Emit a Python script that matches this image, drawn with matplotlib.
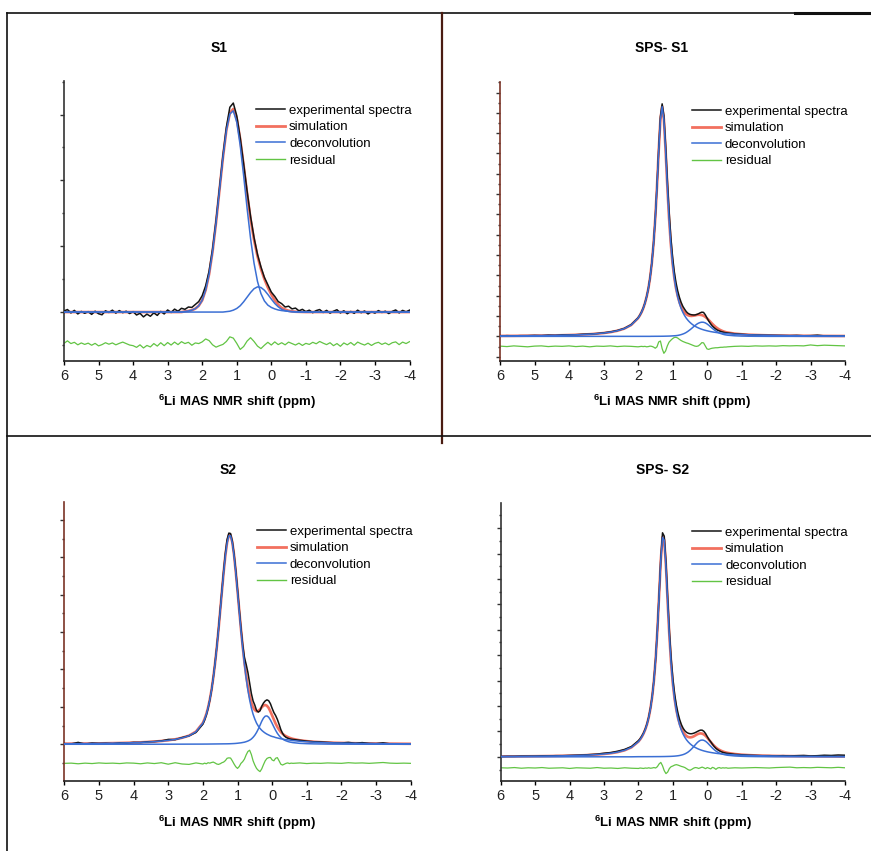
import numpy as np
import matplotlib
matplotlib.use("Agg")
import matplotlib.pyplot as plt
from matplotlib.lines import Line2D
from matplotlib.ticker import MultipleLocator

plt.rcParams['font.family'] = ['Liberation Sans', 'DejaVu Sans']
plt.rcParams['mathtext.fontset'] = 'custom'
plt.rcParams['mathtext.rm'] = 'Liberation Sans'
plt.rcParams['mathtext.bf'] = 'Liberation Sans:bold'

# 6Li shift axis (ppm). S1 is sampled every 0.1 ppm, the other spectra
# coarse in the wings and every 0.05 ppm through the peak region.
shift_s1 = np.linspace(6.0, -4.0, 101)
shift_fine = np.concatenate([np.linspace(6.0, 2.2, 20),
                             np.linspace(2.0, -0.6, 53),
                             np.linspace(-0.8, -4.0, 17)])

# ---- S1 (intensity, exp. maximum = 100) ----
s1_exp = [0.5, 1.2, -0.4, 0.8, -0.9, 0.3, -0.6, 0.2, -1.1, 0.4,
          -0.8, -1.3, 0.6, -0.2, 0.9, -0.5, 0.7, -0.3, 0.4, -0.7,
          0.2, -1.4, -0.6, -2.3, -1.0, -2.0, -0.4, -1.6, 0.3, -0.9,
          1.0, -0.2, 1.4, 0.4, 1.8, 1.3, 2.4, 2.2, 3.6, 5.0,
          7.8, 12.5, 19.5, 30.0, 43.5, 59.0, 74.5, 88.0, 97.5, 99.5,
          93.5, 83.0, 70.5, 57.5, 45.5, 35.5, 27.5, 21.5, 16.5, 13.0,
          9.5, 7.5, 5.0, 4.0, 2.4, 2.8, 1.5, 1.9, 0.6, 1.3,
          0.2, 0.9, -0.3, 0.7, 1.2, -0.2, 0.8, -0.5, 0.4, 1.1,
          -0.4, 0.6, -0.8, 0.3, -0.6, 0.9, -0.3, 0.5, -0.9, 0.2,
          -0.5, 0.7, -0.2, 0.4, -0.7, 0.3, 1.0, -0.4, 0.8, 0.1,
          0.9]
s1_sim = [0.0] * 35 + [
          0.3, 0.5, 0.9, 1.6, 3.0, 5.6, 10.5, 18.0, 28.8, 42.5,
          58.0, 73.5, 86.6, 94.7, 96.7, 92.1, 82.3, 69.7, 56.4, 44.3,
          34.4, 26.6, 20.5, 15.7, 11.7, 8.4, 5.6, 3.5, 2.0, 1.2,
          0.65, 0.35, 0.15, 0.1, 0.05] + [0.0] * 31
s1_dec1 = [0.0] * 35 + [
          0.3, 0.5, 0.9, 1.6, 3.0, 5.6, 10.5, 18.0, 28.8, 42.5,
          58.0, 73.5, 86.4, 94.3, 95.8, 90.4, 79.3, 64.8, 49.3, 35.0,
          23.3, 14.6, 8.8, 5.3, 3.3, 2.2, 1.5, 1.0, 0.7, 0.5,
          0.35, 0.25, 0.15, 0.1, 0.05] + [0.0] * 31
s1_dec2 = [0.0] * 47 + [
          0.2, 0.4, 0.9, 1.7, 3.0, 4.9, 7.1, 9.3, 11.1, 12.0,
          11.7, 10.4, 8.4, 6.2, 4.1, 2.5, 1.3, 0.7, 0.3, 0.1] + [0.0] * 34
s1_res = [0.3, 1.5, 0.2, 0.8, -0.4, 0.5, -0.2, 0.4, -0.6, 0.3,
          -0.9, -0.3, 0.6, -0.1, 0.5, -0.4, 0.3, 0.9, 0.2, -0.5,
          -0.8, -1.6, -0.4, -1.9, -0.7, -1.4, 0.2, -1.0, 0.6, -0.8,
          0.7, -0.5, 0.9, -0.3, 1.1, 0.2, 0.8, -0.6, 0.5, 0.2,
          1.0, 2.4, 1.6, -0.4, -1.5, -0.8, -0.2, 1.2, 3.4, 2.8,
          0.3, -2.6, -1.2, 1.4, 3.0, 1.2, -1.0, -2.2, -0.6, 0.8,
          -0.5, 1.0, -0.3, 0.6, -0.4, 0.9, 0.2, -0.5, 0.4, -0.7,
          0.3, -0.2, 0.8, 0.1, 1.2, 0.4, -0.3, 0.6, -0.8, 0.2,
          -1.1, 0.5, -0.4, 0.7, -0.6, 0.9, 0.1, -0.5, 0.4, -0.7,
          0.3, 0.8, -0.2, 0.5, -0.4, 0.6, 1.0, -0.3, 0.9, 0.2,
          1.1]

# ---- SPS- S1 ----
sps1_exp = [0.1, 0.3, 0.2, 0.3, 0.3, 0.4, 0.3, 0.5, 0.4, 0.6,
            0.6, 0.7, 0.9, 1.0, 1.2, 1.5, 1.9, 2.5, 3.4, 5.0,
            7.9, 9.0, 10.4, 12.1, 14.3, 17.1, 20.6, 25.3, 31.5, 39.8,
            50.7, 64.5, 80.5, 94.5, 100.0, 95.0, 82.5, 67.5, 54.0, 43.0,
            34.5, 28.0, 23.2, 19.6, 16.8, 14.6, 12.9, 11.7, 10.6, 9.9,
            9.5, 9.3, 9.2, 9.2, 9.4, 9.7, 10.1, 10.4, 10.3, 9.3,
            7.9, 6.6, 5.5, 4.5, 3.8, 3.2, 2.7, 2.4, 2.1, 1.9,
            1.7, 1.55, 1.45,
            1.1, 0.9, 0.7, 0.6, 0.5, 0.45, 0.4, 0.35, 0.3, 0.4,
            0.25, 0.3, 0.5, 0.2, 0.25, 0.15, 0.2]
sps1_sim = [0.19, 0.20, 0.22, 0.25, 0.27, 0.30, 0.34, 0.38, 0.43, 0.49,
            0.57, 0.66, 0.78, 0.93, 1.14, 1.42, 1.81, 2.40, 3.31, 4.87,
            7.80, 8.93, 10.3, 12.0, 14.2, 17.0, 20.5, 25.2, 31.42, 39.72,
            50.63, 64.33, 79.84, 93.34, 98.85, 93.36, 79.88, 64.40, 50.72, 39.85,
            31.6, 25.45, 20.8, 17.4, 14.75, 12.75, 11.3, 10.23, 9.5, 9.07,
            8.84, 8.78, 8.87, 8.99, 9.18, 9.28, 9.26, 9.14, 8.85, 8.39,
            7.75, 7.03, 6.22, 5.44, 4.71, 4.05, 3.49, 3.00, 2.62, 2.29,
            2.01, 1.80, 1.64,
            1.18, 0.90, 0.72, 0.60, 0.51, 0.43, 0.38, 0.34, 0.30, 0.27,
            0.25, 0.22, 0.20, 0.19, 0.17, 0.16, 0.15]
sps1_dec1 = [0.19, 0.20, 0.22, 0.25, 0.27, 0.30, 0.34, 0.38, 0.43, 0.49,
             0.57, 0.66, 0.78, 0.93, 1.14, 1.42, 1.81, 2.40, 3.31, 4.87,
             7.80, 8.93, 10.3, 12.0, 14.2, 17.0, 20.5, 25.2, 31.4, 39.7,
             50.6, 64.3, 79.8, 93.3, 98.8, 93.3, 79.8, 64.3, 50.6, 39.7,
             31.4, 25.2, 20.5, 17.0, 14.2, 12.0, 10.3, 8.93, 7.80, 6.87,
             6.09, 5.43, 4.87, 4.39, 3.98, 3.63, 3.31, 3.04, 2.80, 2.59,
             2.40, 2.23, 2.07, 1.94, 1.81, 1.70, 1.59, 1.50, 1.42, 1.34,
             1.26, 1.20, 1.14,
             0.93, 0.78, 0.66, 0.57, 0.49, 0.43, 0.38, 0.34, 0.30, 0.27,
             0.25, 0.22, 0.20, 0.19, 0.17, 0.16, 0.15]
sps1_dec2 = [0.0] * 20 + [
             0.0, 0.0, 0.0, 0.0, 0.0, 0.0, 0.0, 0.0, 0.02, 0.02,
             0.03, 0.03, 0.04, 0.04, 0.05, 0.06, 0.08, 0.10, 0.12, 0.15,
             0.2, 0.25, 0.3, 0.4, 0.55, 0.75, 1.0, 1.3, 1.7, 2.2,
             2.75, 3.35, 4.0, 4.6, 5.2, 5.65, 5.95, 6.1, 6.05, 5.8,
             5.35, 4.8, 4.15, 3.5, 2.9, 2.35, 1.9, 1.5, 1.2, 0.95,
             0.75, 0.6, 0.5,
             0.25, 0.12, 0.06, 0.03, 0.02] + [0.0] * 12
sps1_res = [0.1, -0.1, 0.2, 0.0, -0.2, 0.1, 0.2, -0.1, 0.1, 0.0,
            0.2, -0.1, 0.1, -0.2, 0.1, 0.0, 0.2, -0.1, 0.1, 0.0,
            -0.2, -0.1, 0.0, -0.1, 0.0, -0.2, -0.1, 0.1, 0.0, -0.3,
            -0.8, -0.2, 1.9, 2.3, -1.0, -3.0, -2.0, 0.2, 1.8, 2.6,
            3.3, 3.8, 3.9, 3.6, 3.0, 2.5, 2.1, 1.8, 1.5, 1.3,
            1.0, 0.7, 0.4, 0.1, 0.0, 0.2, 0.8, 1.6, 1.5, 0.2,
            -1.1, -1.3, -1.0, -0.8, -0.7, -0.6, -0.6, -0.5, -0.4, -0.4,
            -0.3, -0.3, -0.2,
            0.0, 0.1, 0.0, 0.2, 0.1, 0.2, 0.1, 0.3, 0.2, 0.3,
            0.2, 0.6, 0.3, 0.5, 0.4, 0.3, 0.2]

# ---- S2 ----
s2_exp = [0.3, 0.2, 0.9, 0.1, 0.6, 0.4, 0.5, 0.3, 0.7, 0.6,
          0.9, 0.8, 1.2, 1.3, 1.6, 2.3, 2.2, 3.2, 4.0, 5.6,
          9.5, 11.4, 13.8, 16.9, 20.8, 25.5, 31.4, 38.2, 45.8, 54.2,
          63.4, 72.8, 82.0, 90.4, 96.8, 99.8, 99.6, 96.0, 90.0, 82.2,
          73.3, 64.0, 55.0, 47.0, 41.0, 37.8, 34.0, 29.0, 24.0, 20.5,
          18.5, 16.0, 15.2, 15.8, 18.0, 19.5, 20.5, 21.0, 20.6, 19.2,
          17.0, 15.0, 13.6, 11.8, 9.5, 7.0, 5.2, 4.0, 3.3, 2.9,
          2.6, 2.4, 2.3,
          1.9, 1.5, 1.2, 1.1, 0.9, 0.7, 0.6, 0.9, 0.5, 0.8,
          0.4, 0.3, 0.7, 0.2, 0.1, 0.1, 0.1]
s2_sim = [0.28, 0.31, 0.33, 0.37, 0.40, 0.44, 0.50, 0.56, 0.62, 0.71,
          0.80, 0.94, 1.09, 1.29, 1.56, 1.90, 2.36, 3.07, 4.08, 5.99,
          10.1, 12.0, 14.3, 17.3, 21.1, 25.7, 31.4, 38.0, 45.5, 53.9,
          63.0, 72.3, 81.3, 89.3, 95.4, 98.8, 98.8, 95.5, 89.5, 81.5,
          72.6, 63.4, 54.4, 46.2, 38.8, 32.5, 27.2, 23.0, 19.7, 17.5,
          16.2, 15.6, 15.8, 16.5, 17.5, 18.3, 18.6, 18.2, 17.2, 15.5,
          13.6, 11.7, 9.8, 8.2, 6.9, 5.8, 5.0, 4.3, 3.85, 3.45,
          3.1, 2.8, 2.55,
          1.88, 1.49, 1.21, 1.01, 0.85, 0.73, 0.65, 0.57, 0.51, 0.46,
          0.41, 0.38, 0.34, 0.31, 0.29, 0.26, 0.24]
s2_dec1 = [0.26, 0.29, 0.31, 0.35, 0.38, 0.42, 0.47, 0.53, 0.59, 0.68,
           0.77, 0.90, 1.05, 1.25, 1.51, 1.85, 2.3, 3.0, 4.0, 5.9,
           10.0, 11.9, 14.2, 17.2, 21.0, 25.6, 31.2, 37.8, 45.3, 53.7,
           62.8, 72.1, 81.1, 89.1, 95.2, 98.5, 98.5, 95.2, 89.1, 81.1,
           72.1, 62.8, 53.7, 45.3, 37.8, 31.2, 25.6, 21.0, 17.2, 14.2,
           11.9, 10.0, 8.6, 7.5, 6.6, 5.9, 5.3, 4.8, 4.4, 4.0,
           3.7, 3.5, 3.2, 3.0, 2.8, 2.6, 2.5, 2.3, 2.2, 2.1,
           2.0, 1.85, 1.75,
           1.43, 1.19, 1.01, 0.86, 0.75, 0.65, 0.58, 0.51, 0.46, 0.41,
           0.37, 0.34, 0.31, 0.28, 0.26, 0.24, 0.22]
s2_dec2 = [0.02, 0.02, 0.02, 0.02, 0.02, 0.02, 0.03, 0.03, 0.03, 0.03,
           0.03, 0.04, 0.04, 0.04, 0.05, 0.05, 0.06, 0.07, 0.08, 0.09,
           0.10, 0.11, 0.11, 0.12, 0.13, 0.14, 0.15, 0.16, 0.17, 0.18,
           0.19, 0.2, 0.21, 0.22, 0.23, 0.25, 0.28, 0.32, 0.36, 0.42,
           0.5, 0.6, 0.7, 0.85, 1.0, 1.25, 1.55, 1.95, 2.5, 3.3,
           4.3, 5.6, 7.2, 9.0, 10.9, 12.4, 13.3, 13.4, 12.8, 11.5,
           9.9, 8.2, 6.6, 5.2, 4.1, 3.2, 2.5, 2.0, 1.65, 1.35,
           1.1, 0.95, 0.8,
           0.45, 0.3, 0.2, 0.15, 0.1, 0.08, 0.07, 0.06, 0.05, 0.05,
           0.04, 0.04, 0.03, 0.03, 0.03, 0.02, 0.02]
s2_res = [0.0, 0.1, -0.2, 0.1, -0.1, 0.2, 0.0, 0.1, -0.1, 0.2,
          0.1, -0.2, 0.2, -0.1, 0.3, -0.4, 0.3, -0.3, -0.5, 0.2,
          -0.3, 0.1, -0.2, 0.3, 0.1, 0.4, 0.6, 0.2, -0.3, -0.5,
          -0.2, 0.3, 0.6, 1.3, 2.4, 2.6, 2.5, 1.2, -0.3, -1.6,
          -2.4, -1.5, 0.0, 0.8, 2.0, 4.0, 5.6, 6.2, 4.2, 1.2,
          -0.8, -2.4, -3.3, -3.9, -2.6, -0.6, 1.2, 2.3, 2.7, 2.8,
          1.6, 1.2, 2.4, 2.7, 1.2, -0.4, -0.8, -0.4, 0.0, 0.2,
          -0.1, 0.1, 0.0,
          0.2, -0.1, 0.1, 0.0, 0.2, 0.1, 0.0, 0.3, 0.1, 0.2,
          0.0, 0.2, 0.4, 0.1, 0.0, 0.1, 0.0]

# ---- SPS- S2 ----
sps2_exp = [0.1, 0.2, 0.2, 0.3, 0.3, 0.3, 0.4, 0.4, 0.5, 0.5,
            0.6, 0.7, 0.8, 1.0, 1.2, 1.6, 1.9, 2.5, 3.3, 4.6,
            7.2, 8.1, 9.3, 10.7, 12.5, 14.8, 17.8, 21.8, 27.0, 34.2,
            43.8, 56.5, 72.2, 88.5, 100.0, 98.5, 87.0, 71.0, 56.0, 44.0,
            35.0, 28.2, 23.2, 19.4, 16.5, 14.3, 12.7, 11.6, 10.9, 10.5,
            10.3, 10.3, 10.5, 10.8, 11.2, 11.6, 11.9, 11.9, 11.4, 10.4,
            9.0, 7.7, 6.7, 5.6, 4.6, 3.8, 3.2, 2.7, 2.3, 2.0,
            1.8, 1.6, 1.5,
            1.1, 0.9, 0.7, 0.6, 0.5, 0.5, 0.4, 0.5, 0.4, 0.5,
            0.6, 0.4, 0.5, 0.7, 0.6, 0.8, 0.7]
sps2_sim = [0.17, 0.18, 0.20, 0.22, 0.24, 0.27, 0.30, 0.34, 0.39, 0.44,
            0.51, 0.59, 0.69, 0.83, 1.01, 1.26, 1.60, 2.11, 2.91, 4.25,
            6.81, 7.78, 8.96, 10.43, 12.26, 14.59, 17.62, 21.58, 26.86, 34.00,
            43.62, 56.32, 71.88, 87.79, 98.08, 96.83, 84.87, 68.68, 53.62, 41.60,
            32.57, 25.91, 21.01, 17.35, 14.62, 12.58, 11.05, 9.95, 9.22, 8.79,
            8.67, 8.78, 9.08, 9.52, 9.97, 10.32, 10.47, 10.36, 9.98, 9.38,
            8.54, 7.58, 6.64, 5.71, 4.89, 4.18, 3.58, 3.10, 2.72, 2.39,
            2.12, 1.91, 1.73,
            1.24, 0.95, 0.76, 0.62, 0.52, 0.45, 0.39, 0.35, 0.31, 0.28,
            0.26, 0.23, 0.21, 0.19, 0.18, 0.16, 0.14]
sps2_dec1 = [0.17, 0.18, 0.20, 0.22, 0.24, 0.27, 0.30, 0.34, 0.39, 0.44,
             0.51, 0.59, 0.69, 0.83, 1.01, 1.26, 1.60, 2.11, 2.91, 4.25,
             6.76, 7.73, 8.91, 10.37, 12.20, 14.53, 17.55, 21.51, 26.79, 33.92,
             43.54, 56.23, 71.79, 87.69, 97.97, 96.71, 84.73, 68.52, 53.44, 41.39,
             32.32, 25.61, 20.63, 16.88, 14.02, 11.80, 10.05, 8.65, 7.52, 6.59,
             5.82, 5.18, 4.63, 4.17, 3.77, 3.42, 3.12, 2.86, 2.63, 2.43,
             2.24, 2.08, 1.94, 1.81, 1.69, 1.58, 1.48, 1.40, 1.32, 1.24,
             1.17, 1.11, 1.05,
             0.86, 0.72, 0.61, 0.52, 0.45, 0.40, 0.35, 0.31, 0.28, 0.25,
             0.23, 0.21, 0.19, 0.17, 0.16, 0.15, 0.13]
sps2_dec2 = [0.0] * 20 + [
             0.05, 0.05, 0.05, 0.06, 0.06, 0.06, 0.07, 0.07, 0.07, 0.08,
             0.08, 0.09, 0.09, 0.10, 0.11, 0.12, 0.14, 0.16, 0.18, 0.21,
             0.25, 0.3, 0.38, 0.47, 0.6, 0.78, 1.0, 1.3, 1.7, 2.2,
             2.85, 3.6, 4.45, 5.35, 6.2, 6.9, 7.35, 7.5, 7.35, 6.95,
             6.3, 5.5, 4.7, 3.9, 3.2, 2.6, 2.1, 1.7, 1.4, 1.15,
             0.95, 0.8, 0.68,
             0.38, 0.23, 0.15, 0.1, 0.07, 0.05, 0.04, 0.04, 0.03, 0.03,
             0.03, 0.02, 0.02, 0.02, 0.02, 0.01, 0.01]
sps2_res = [0.1, 0.0, 0.2, -0.1, 0.1, 0.0, 0.2, -0.1, 0.0, 0.1,
            -0.2, 0.1, 0.0, -0.1, 0.2, -0.1, 0.0, -0.2, 0.1, -0.1,
            -0.2, 0.0, -0.1, -0.2, 0.0, -0.1, 0.1, -0.1, 0.0, 0.2,
            0.0, 0.6, 1.8, 2.5, 1.0, -1.2, -2.5, -1.8, -0.2, 0.6,
            0.9, 1.3, 1.5, 1.3, 1.0, 0.7, 0.5, 0.2, -0.3, -0.8,
            -1.0, -0.6, -0.1, 0.2, 0.1, -0.2, 0.1, 0.4, 0.1, -0.3,
            0.2, -0.1, -0.4, 0.3, 0.0, -0.6, 0.0, 0.2, -0.1, 0.1,
            0.0, 0.1, -0.1,
            0.1, 0.0, 0.1, 0.2, 0.1, 0.0, 0.2, 0.3, 0.4, 0.1,
            0.2, 0.1, 0.3, 0.2, 0.1, 0.3, 0.1]

labels = ['experimental spectra', 'simulation', 'deconvolution', 'residual']
C_EXP, C_SIM, C_DEC, C_RES = '#141414', '#f2705f', '#3b6fd4', '#62c444'

W, H = 871, 851
fig = plt.figure(figsize=(W / 100, H / 100), dpi=100)
fig.patch.set_facecolor('white')

# frame lines of the original figure
def hline(y, x0, x1, lw=1.2, c='#111111'):
    fig.add_artist(Line2D([x0 / W, x1 / W], [1 - y / H, 1 - y / H], lw=lw, color=c))

def vline(x, y0, y1, lw=1.2, c='#111111'):
    fig.add_artist(Line2D([x / W, x / W], [1 - y0 / H, 1 - y1 / H], lw=lw, color=c))

hline(12.7, 7, 795)
hline(12.7, 795, 871, lw=2.2)
vline(7.3, 12.7, 851)
vline(442, 12.7, 443, lw=1.6, c='#4a1c12')
hline(435.5, 7, 871)

panels = [
    dict(x=shift_s1, exp=s1_exp, sim=s1_sim, d1=s1_dec1, d2=s1_dec2, res=s1_res,
         box=(64, 81, 409.5, 361), ylim=(-23.3, 110.0), step=15.67, off=-15.2,
         title='S1', txy=(219, 48), lxy=(236.7, 401.7), spine='#333333'),
    dict(x=shift_fine, exp=sps1_exp, sim=sps1_sim, d1=sps1_dec1, d2=sps1_dec2, res=sps1_res,
         box=(500, 82, 845, 361), ylim=(-10.6, 109.4), step=4.37, off=-4.3,
         title='SPS- S1', txy=(661.7, 48), lxy=(672, 401.7), spine='#7a3326'),
    dict(x=shift_fine, exp=s2_exp, sim=s2_sim, d1=s2_dec1, d2=s2_dec2, res=s2_res,
         box=(64.3, 502, 410.7, 780.7), ylim=(-17.2, 114.5), step=8.84, off=-9.0,
         title='S2', txy=(228, 470), lxy=(237, 822.7), spine='#7a3326'),
    dict(x=shift_fine, exp=sps2_exp, sim=sps2_sim, d1=sps2_dec1, d2=sps2_dec2, res=sps2_res,
         box=(500.7, 503, 845, 781), ylim=(-10.8, 113.3), step=5.67, off=-5.0,
         title='SPS- S2', txy=(662.7, 470), lxy=(673, 822.7), spine='#333333'),
]

for p in panels:
    l, t, r, b = p['box']
    ax = fig.add_axes([l / W, 1 - b / H, (r - l) / W, (b - t) / H])
    x = p['x']
    ax.plot(x, p['sim'], color=C_SIM, lw=1.9, zorder=2)
    ax.plot(x, p['exp'], color=C_EXP, lw=1.1, zorder=3)
    ax.plot(x, p['d1'], color=C_DEC, lw=1.1, zorder=4)
    ax.plot(x, p['d2'], color=C_DEC, lw=1.1, zorder=4)
    ax.plot(x, np.asarray(p['res']) + p['off'], color=C_RES, lw=0.9, zorder=2)

    ax.set_xlim(6, -4)
    ax.set_ylim(*p['ylim'])
    ax.yaxis.set_major_locator(MultipleLocator(2 * p['step']))
    ax.yaxis.set_minor_locator(MultipleLocator(p['step']))
    ax.set_yticklabels([])
    ax.set_xticks(range(-4, 7))
    ax.set_xticklabels([str(v) for v in range(-4, 7)], fontsize=10.5, color='#222222')
    ax.tick_params(axis='x', direction='out', length=3, width=1, pad=3)
    ax.tick_params(axis='y', which='major', direction='out', length=3, width=1, color='#333333')
    ax.tick_params(axis='y', which='minor', direction='out', length=1.6, width=1, color='#333333')
    for s in ('top', 'right'):
        ax.spines[s].set_visible(False)
    ax.spines['left'].set_color(p['spine'])
    ax.spines['left'].set_linewidth(1.2)
    ax.spines['bottom'].set_linewidth(1.2)
    ax.spines['bottom'].set_color('#222222')

    handles = [Line2D([], [], color=C_EXP, lw=1.1),
               Line2D([], [], color=C_SIM, lw=2.0),
               Line2D([], [], color=C_DEC, lw=1.1),
               Line2D([], [], color=C_RES, lw=1.0)]
    ax.legend(handles, labels, loc='upper left', bbox_to_anchor=(0.556, 0.916),
              frameon=False, fontsize=9.5, borderpad=0, borderaxespad=0,
              handlelength=2.2, handletextpad=0.3, labelspacing=0.33)

    fig.text(p['txy'][0] / W, 1 - p['txy'][1] / H, p['title'], ha='center', va='center',
             fontsize=10, fontweight='bold')
    fig.text(p['lxy'][0] / W, 1 - p['lxy'][1] / H, r'$^{\mathbf{6}}$Li MAS NMR shift (ppm)',
             ha='center', va='center', fontsize=9.5, fontweight='bold')

fig.savefig('out.png', dpi=100, facecolor='white')
